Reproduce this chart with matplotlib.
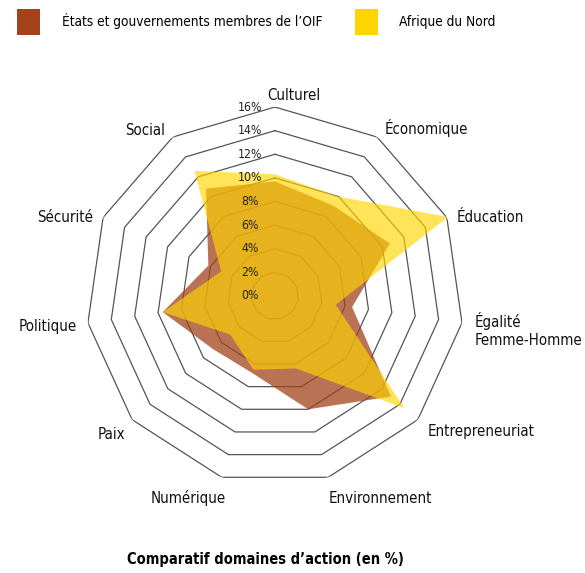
import numpy as np
import matplotlib
matplotlib.use("Agg")
import matplotlib.pyplot as plt
from matplotlib.patches import Patch

# --------------------------------------------------
# Data (in %)
# --------------------------------------------------
categories = ["Culturel", "Économique", "Éducation", "Égalité\nFemme-Homme",
              "Entrepreneuriat", "Environnement", "Numérique", "Paix",
              "Politique", "Sécurité", "Social"]
oif = [9.7, 9.1, 10.7, 6.6, 13.0, 10.0, 6.8, 6.9, 9.6, 6.2, 10.8]
afrique_nord = [10.3, 10.0, 16.1, 5.2, 14.5, 6.4, 6.5, 5.0, 9.6, 5.0, 12.6]
ring_values = [2, 4, 6, 8, 10, 12, 14, 16]
tick_values = [0, 2, 4, 6, 8, 10, 12, 14, 16]
tick_labels = [f"{v}%" for v in tick_values]
series_names = ["États et gouvernements membres de l’OIF", "Afrique du Nord"]

# --------------------------------------------------
# Style
# --------------------------------------------------
plt.rcParams["font.family"] = ["DejaVu Sans"]
plt.rcParams["font.stretch"] = "condensed"
brown = "#A3431B"
yellow = "#FFD500"
ring_color = "#555555"

# label offsets in pixels (dx, dy) and horizontal alignment, per category
label_layout = [
    (-8, 12, "left"), (8, 9, "left"), (10, 0, "left"), (13, -7, "left"),
    (10, -12, "left"), (0, -21, "left"), (4, -21, "right"), (-7, -15, "right"),
    (-11, -4, "right"), (-10, 0, "right"), (-8, 7, "right"),
]

n = len(categories)
angles = np.linspace(0, 2 * np.pi, n, endpoint=False)
closed = np.append(angles, angles[0])

fig = plt.figure(figsize=(5.85, 5.73), dpi=100)
ax = fig.add_axes([0.147, 0.1536, 0.646, 0.6597], projection="polar")
ax.set_theta_zero_location("N")
ax.set_theta_direction(-1)
ax.set_ylim(0, 16)
ax.axis("off")

# polygon grid
for v in ring_values:
    ax.plot(closed, [v] * (n + 1), color=ring_color, lw=0.9, zorder=1)

# series
ax.fill(closed, oif + oif[:1], color=brown, alpha=0.75, lw=0, zorder=2)
ax.fill(closed, afrique_nord + afrique_nord[:1], color=yellow, alpha=0.65,
        lw=0, zorder=3)

# radial tick labels along the top axis
for v, lab in zip(tick_values, tick_labels):
    ax.annotate(lab, xy=(0, v), xytext=(-25, 0), textcoords="offset pixels",
                ha="center", va="center", fontsize=8.8, color="#222222",
                zorder=5)

# category labels
for ang, cat, (dx, dy, ha) in zip(angles, categories, label_layout):
    ax.annotate(cat, xy=(ang, 16), xytext=(dx, dy), textcoords="offset pixels",
                ha=ha, va="center", fontsize=10.8, color="#111111",
                annotation_clip=False, linespacing=1.25)

# legend
handles = [Patch(facecolor=brown, edgecolor="none"),
           Patch(facecolor=yellow, edgecolor="none")]
fig.legend(handles, series_names, loc="upper left",
           bbox_to_anchor=(0.017, 0.9965), ncol=2, frameon=False,
           fontsize=9.8, handlelength=1.69, handleheight=2.5,
           handletextpad=1.6, columnspacing=2.35, borderaxespad=0.15)

fig.text(0.453, 0.0227, "Comparatif domaines d’action (en %)", ha="center",
         va="center", fontsize=10.5, fontweight="bold")

fig.savefig("out.png", dpi=100)
